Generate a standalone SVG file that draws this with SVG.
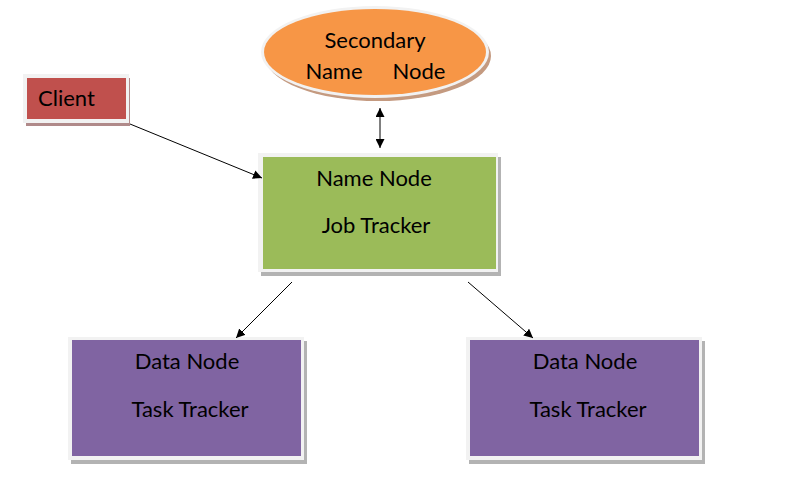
<svg xmlns="http://www.w3.org/2000/svg" width="792" height="493" viewBox="0 0 792 493">
<style>
  .t { font-family: Lato, "Liberation Sans", sans-serif; font-size: 22px; fill: #000; text-anchor: middle; }
  .edge { stroke: #000; stroke-width: 1; fill: none; }
  .frame { fill: #f2f2f2; }
</style>
<defs>
  <marker id="ah" viewBox="0 0 10 10" refX="10" refY="5" markerWidth="9" markerHeight="9" markerUnits="userSpaceOnUse" orient="auto-start-reverse">
    <path d="M0,0 L10,5 L0,10 z" fill="#000"/>
  </marker>
</defs>
<rect width="792" height="493" fill="#fff"/>

<g id="secondary-name-node">
  <ellipse cx="378" cy="56" rx="113" ry="45" fill="#c49a80"/>
  <ellipse cx="375" cy="52" rx="114" ry="46" fill="#f2f2f2"/>
  <ellipse cx="375" cy="52" rx="111" ry="43" fill="#f79646"/>
  <text class="t" x="375" y="48">Secondary</text>
  <text class="t" x="334" y="79">Name</text>
  <text class="t" x="419" y="79">Node</text>
</g>

<g id="client">
  <rect x="26" y="78" width="104" height="48" fill="#b08a8a"/>
  <rect class="frame" x="23" y="74" width="106" height="49"/>
  <rect x="27" y="78" width="99" height="41" fill="#c0504d"/>
  <text class="t" x="38" y="106" style="text-anchor:start">Client</text>
</g>

<g id="name-node">
  <rect x="261" y="157" width="240" height="119" fill="#b3b3b3"/>
  <rect class="frame" x="258" y="153" width="240" height="119"/>
  <rect x="263" y="157" width="233" height="112" fill="#9bbb59"/>
  <text class="t" x="374" y="186">Name Node</text>
  <text class="t" x="376" y="233">Job Tracker</text>
</g>

<g id="data-node-1">
  <rect x="71" y="341" width="236" height="123" fill="#b3b3b3"/>
  <rect class="frame" x="68" y="337" width="236" height="123"/>
  <rect x="72" y="340" width="229" height="116" fill="#8064a2"/>
  <text class="t" x="187" y="369">Data Node</text>
  <text class="t" x="190" y="417">Task Tracker</text>
</g>

<g id="data-node-2">
  <rect x="469" y="341" width="236" height="123" fill="#b3b3b3"/>
  <rect class="frame" x="466" y="337" width="236" height="123"/>
  <rect x="470" y="340" width="229" height="116" fill="#8064a2"/>
  <text class="t" x="585" y="369">Data Node</text>
  <text class="t" x="588" y="417">Task Tracker</text>
</g>

<g id="connectors">
  <line class="edge" x1="380" y1="108" x2="380" y2="148" marker-start="url(#ah)" marker-end="url(#ah)"/>
  <line class="edge" x1="130" y1="124" x2="262" y2="178" marker-end="url(#ah)"/>
  <line class="edge" x1="292" y1="282" x2="236" y2="338" marker-end="url(#ah)"/>
  <line class="edge" x1="468" y1="282" x2="533" y2="338" marker-end="url(#ah)"/>
</g>
</svg>
